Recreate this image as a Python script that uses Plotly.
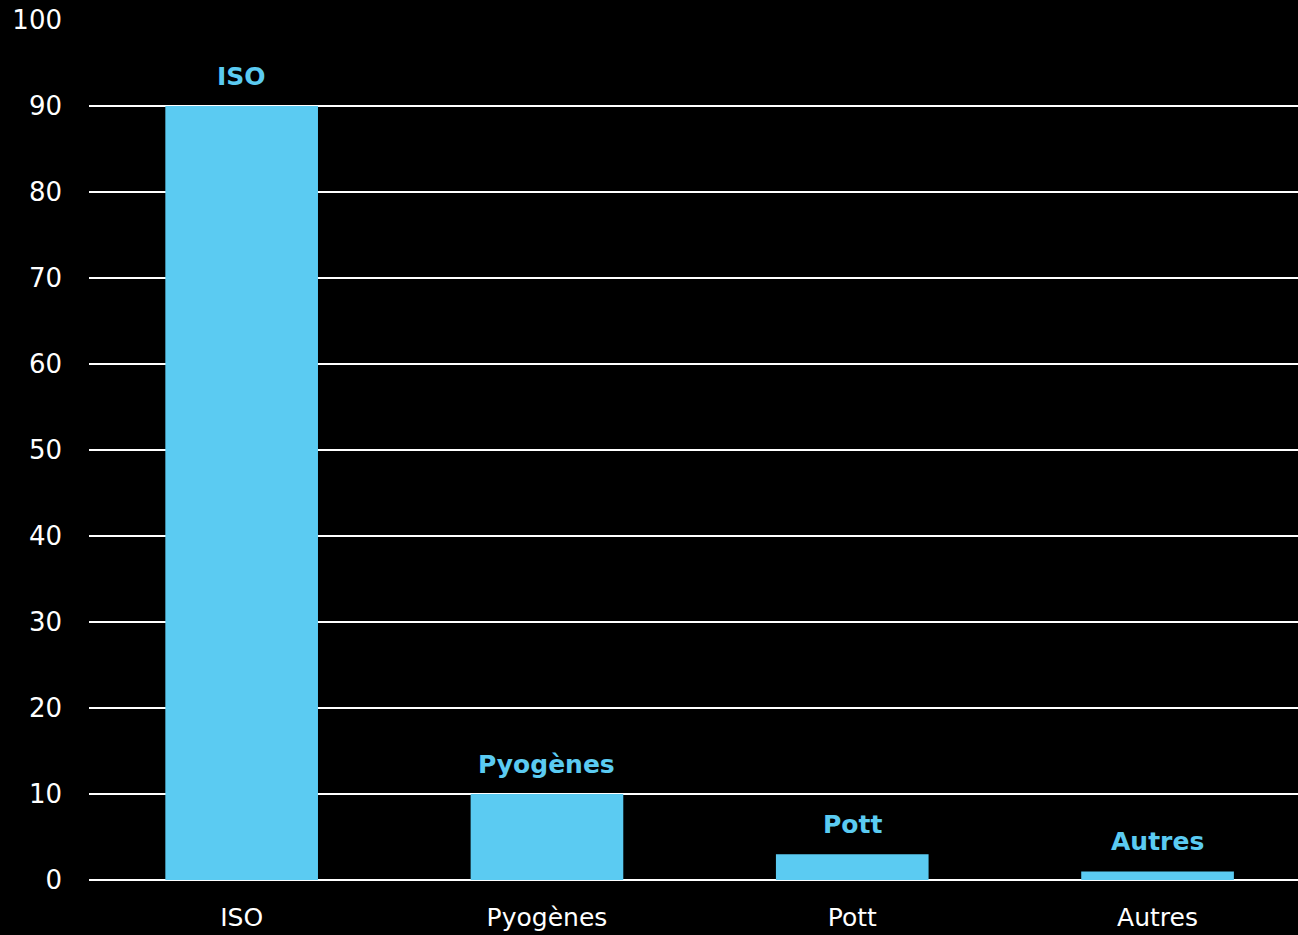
import plotly.graph_objects as go

categories = ["ISO", "Pyogènes", "Pott", "Autres"]
values = [90, 10, 3, 1]

bar_color = "#5BCBF2"
font_family = "'DejaVu Sans', sans-serif"

fig = go.Figure()
fig.add_trace(go.Bar(
    x=categories, y=values, marker=dict(color=bar_color, line=dict(width=0)),
    width=0.5, hoverinfo="skip",
))

for c, v in zip(categories, values):
    fig.add_annotation(
        x=c, y=v, text=f"<b>{c}</b>", showarrow=False,
        yanchor="bottom", yshift=13,
        font=dict(family=font_family, size=25, color=bar_color),
    )

fig.update_layout(
    width=1298, height=935,
    margin=dict(l=89, r=0, t=20, b=55),
    paper_bgcolor="black", plot_bgcolor="black",
    showlegend=False,
    font=dict(family=font_family, color="white", size=24),
)
fig.update_xaxes(
    range=[-0.5, 3.46],
    showgrid=False, ticks="", tickfont=dict(size=25, color="white"),
    showline=False, ticklabelstandoff=20,
)
fig.update_yaxes(
    range=[0, 100], dtick=10, showgrid=True, gridcolor="white", gridwidth=2,
    zeroline=True, zerolinecolor="white", zerolinewidth=2,
    ticks="", tickfont=dict(size=26, color="white"), ticklabelstandoff=26,
)

fig.write_html("out.html")
